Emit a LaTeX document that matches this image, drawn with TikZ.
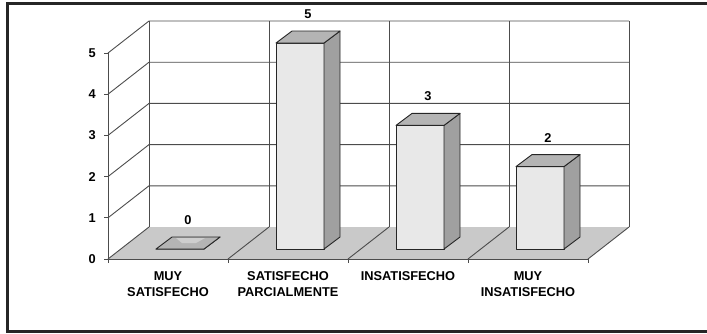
\documentclass[tikz,border=0pt]{standalone}
\usepackage{fontspec}
\setmainfont{Liberation Sans}
\usetikzlibrary{positioning}

\definecolor{floorgray}{HTML}{C9C9C9}
\definecolor{barfront}{HTML}{E8E8E8}
\definecolor{barside}{HTML}{A0A0A0}
\definecolor{bartop}{HTML}{B4B4B4}

\begin{document}
\begin{tikzpicture}[x=1pt,y=1pt,
	grid/.style={draw=black!70,line width=0.9pt},
	edgeline/.style={draw=black!85,line width=0.9pt,line join=round},
	lbl/.style={font=\bfseries\fontsize{12.8}{16}\selectfont,align=center,inner sep=0pt}]
	\useasboundingbox (0,0) rectangle (707,333);
	\draw[line width=3pt,draw=black!85] (7,2) rectangle (715,329);

	% floor and walls
	\fill[floorgray] (108,74) -- (588,74) -- (629,106) -- (149,106) -- cycle;
	\foreach \k in {1,...,5}
		\draw[grid] (108,74+41.2*\k) -- (149,106+41.2*\k) -- (629,106+41.2*\k);
	\foreach \i in {0,...,4} {
		\draw[grid] (149+120*\i,106) -- (149+120*\i,312);
		\draw[grid] (108+120*\i,74) -- (149+120*\i,106);
		\draw[grid] (108+120*\i,74) -- (108+120*\i,70);
	}
	\draw[grid] (108,74) -- (588,74);
	\draw[grid] (108,74) -- (108,280);

	% value axis
	\foreach \k in {0,...,5} {
		\draw[grid] (104,74+41.2*\k) -- (108,74+41.2*\k);
		\node[lbl,anchor=east] (ax\k) at (96,74+41.2*\k) {\k};
	}

	% bars
	\foreach \i/\v/\name in {0/0/{MUY\\SATISFECHO},1/5/{SATISFECHO\\PARCIALMENTE},2/3/{INSATISFECHO},3/2/{MUY\\INSATISFECHO}} {
		\pgfmathsetmacro{\cx}{108+120*\i}
		\pgfmathsetmacro{\t}{84+41.2*\v}
		\filldraw[edgeline,fill=barfront] (\cx+48,84) rectangle (\cx+96,\t);
		\filldraw[edgeline,fill=barside] (\cx+96,84) -- (\cx+112,96) -- (\cx+112,\t+12) -- (\cx+96,\t) -- cycle;
		\filldraw[edgeline,fill=bartop] (\cx+48,\t) -- (\cx+96,\t) -- (\cx+112,\t+12) -- (\cx+64,\t+12) -- cycle;
		\node[lbl] (val\i) at (\cx+80,\t+29) {\v};
		\node[lbl,anchor=north] (cat\i) at (\cx+60,62) {\name};
	}
	% light streak on the empty bar
	\fill[bartop!65!white] (176,95) -- (205,95) -- (196,90) -- (182,90) -- cycle;
\end{tikzpicture}
\end{document}
